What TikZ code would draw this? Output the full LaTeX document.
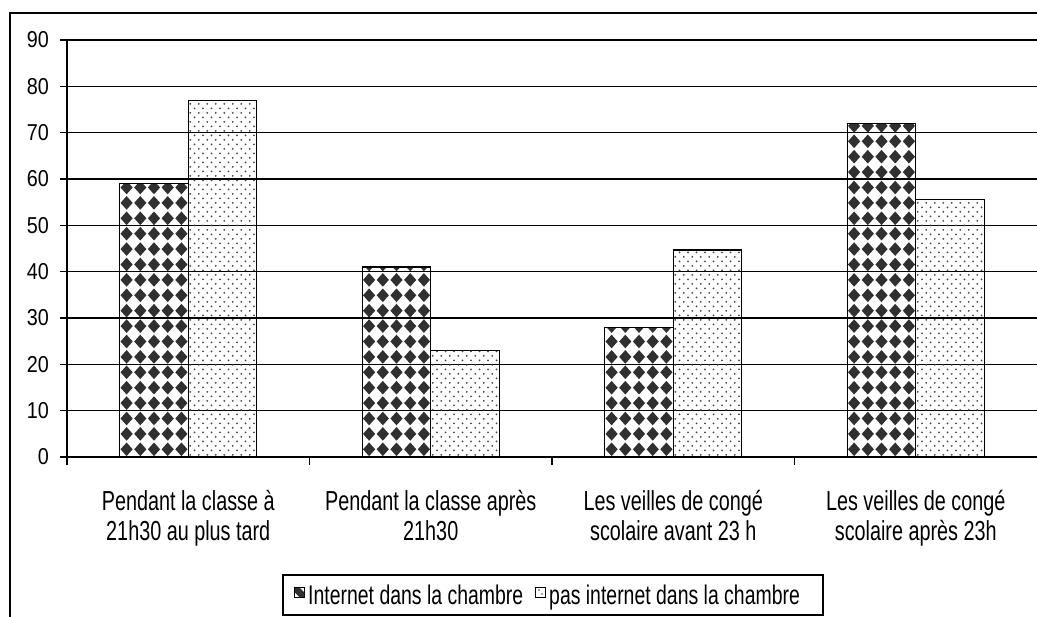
\documentclass[tikz,border=0pt]{standalone}
\usepackage{fontspec}
\setmainfont{Liberation Sans}
\newfontfamily\labfont[FakeStretch=0.72]{Liberation Sans}
\newfontfamily\ticfont[FakeStretch=0.86]{Liberation Sans}
\definecolor{dk}{HTML}{303030}
\definecolor{dt}{HTML}{444444}
\tikzset{
  frameline/.style={line width=1.5pt, black},
  gridline/.style={line width=1.1pt, black},
  barline/.style={line width=1.3pt, black},
  ticklab/.style={font=\ticfont\fontsize{23}{23}\selectfont, anchor=east, inner sep=0pt},
  catlab/.style={font=\labfont\fontsize{27.5}{30}\selectfont, align=center, anchor=base, inner sep=0pt},
  leglab/.style={font=\labfont\fontsize{27}{30}\selectfont, anchor=base west, inner sep=0pt},
}
\newcommand\darkbar[2]{%
  \pgfmathsetmacro\yt{457-#2*4.6333}
  \begin{scope}
    \clip (#1,457) rectangle ({#1+68.5},\yt);
    \foreach \j in {0,...,30}{
      \foreach \i in {0,...,4}{
        \fill[dk] ({#1+6.85+\i*13.7-6.1},{457-7.7-\j*15.4}) -- ++(6.1,6.8) -- ++(6.1,-6.8) -- ++(-6.1,-6.8) -- cycle;
      }
    }
  \end{scope}
  \draw[barline] (#1,457) rectangle ({#1+68.5},\yt);
}
\newcommand\lightbar[2]{%
  \pgfmathsetmacro\yt{457-#2*4.6333}
  \pgfmathtruncatemacro\nr{#2*4.6333/4.5+1}
  \begin{scope}
    \clip (#1,457) rectangle ({#1+68.5},\yt);
    \foreach \j in {0,...,\nr}{
      \pgfmathsetmacro\off{mod(\j,2)*4.25}
      \foreach \i in {0,...,8}{
        \fill[dt] ({#1+2+\off+\i*8.5},{457-2.2-\j*4.5}) circle (1.0);
      }
    }
  \end{scope}
  \draw[barline] (#1,457) rectangle ({#1+68.5},\yt);
}
\begin{document}
\begin{tikzpicture}[x=1pt,y=-1pt]
\useasboundingbox (0,0) rectangle (1037,617);
% outer frame
\draw[frameline] (10,617) -- (10,13) -- (1037,13);
% grid lines and y ticks
\foreach \v in {10,20,...,90}{
  \draw[gridline] (60,{457-\v*4.6333}) -- (1037,{457-\v*4.6333});
}
\draw[gridline] (60,457) -- (67,457);
\foreach \v in {0,10,...,90}{
  \node[ticklab] (t\v) at (49,{457-\v*4.6333}) {\v};
}
% bars
\darkbar{119.75}{59}
\lightbar{188.25}{77}
\darkbar{362.25}{41}
\lightbar{430.75}{23}
\darkbar{604.75}{28}
\lightbar{673.25}{44.7}
\darkbar{847.25}{72}
\lightbar{915.75}{55.5}
% axes
\draw[gridline] (67,40) -- (67,465);
\draw[gridline] (67,457) -- (1037,457);
\foreach \x in {309.5,552,794.5}{
  \draw[gridline] (\x,457) -- (\x,465);
}
% category labels (base = last line baseline)
\node[catlab] (c1) at (188.25,540) {Pendant la classe à\\21h30 au plus tard};
\node[catlab] (c2) at (430.75,540) {Pendant la classe après\\21h30};
\node[catlab] (c3) at (673.25,540) {Les veilles de congé\\scolaire avant 23 h};
\node[catlab] (c4) at (915.75,540) {Les veilles de congé\\scolaire après 23h};
% legend
\draw[line width=1.2pt] (283,575) rectangle (823,615);
\begin{scope}
  \clip (294,587) rectangle (304,597);
  \fill[dk] (294,587) rectangle (304,597);
  \fill[white] (294,592) -- (299,597) -- (294,597) -- cycle;
  \fill[white] (299,587) -- (304,592) -- (304,587) -- cycle;
\end{scope}
\draw[line width=0.8pt] (294,587) rectangle (304,597);
\node[leglab] (l1) at (308,604) {Internet dans la chambre};
\draw[line width=0.8pt] (535,587) rectangle (545,597);
\fill[dt] (539,590) circle (0.8);
\fill[dt] (542,594) circle (0.8);
\node[leglab] (l2) at (549,604) {pas internet dans la chambre};
\end{tikzpicture}
\end{document}
